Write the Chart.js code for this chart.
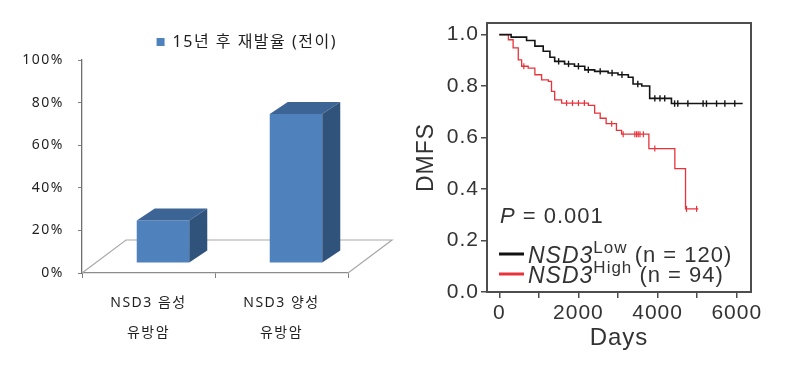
<!DOCTYPE html>
<html>
<head>
<meta charset="utf-8">
<script src="https://cdn.jsdelivr.net/npm/chart.js@4.4.1/dist/chart.umd.min.js"></script>
<style>
  html, body { margin: 0; padding: 0; background: #fff; }
  #wrap { position: relative; width: 804px; height: 373px; overflow: hidden; }
  #bars { position: absolute; left: 0; top: 0; }
  #km { position: absolute; left: 400px; top: 0; }
</style>
</head>
<body>
<div id="wrap">
  <canvas id="bars" width="400" height="373"></canvas>
  <canvas id="km" width="404" height="373"></canvas>
</div>
<script>
// left panel: 15-year recurrence (metastasis) rate
const groupLabels = [['NSD3 음성', '유방암'], ['NSD3 양성', '유방암']];
const recurrenceRate = [20, 70];
const seriesName = '15년 후 재발율 (전이)';
const percentTicks = [0, 20, 40, 60, 80, 100];

// right panel: Kaplan-Meier steps [days, DMFS]
const lowCurve = [
  [0, 1.0], [300, 0.99], [690, 0.977], [900, 0.955], [1110, 0.935], [1280, 0.912],
  [1400, 0.896], [1650, 0.886], [1900, 0.877], [2160, 0.863], [2410, 0.857],
  [2750, 0.851], [3000, 0.844], [3260, 0.834], [3380, 0.808], [3600, 0.8],
  [3800, 0.752], [4350, 0.732], [6150, 0.732]
];
const highCurve = [
  [0, 1.0], [230, 0.98], [350, 0.948], [480, 0.902], [565, 0.877], [730, 0.87],
  [900, 0.844], [1070, 0.824], [1240, 0.818], [1320, 0.779], [1400, 0.746],
  [1575, 0.734], [2250, 0.725], [2410, 0.695], [2550, 0.675], [2700, 0.654],
  [2960, 0.628], [3090, 0.613], [3780, 0.557], [4436, 0.479], [4706, 0.323],
  [5030, 0.323]
];
const lowCensored = [
  [1500, 0.896], [1750, 0.886], [2000, 0.877], [2250, 0.863], [2550, 0.857],
  [2850, 0.851], [3100, 0.844], [3500, 0.808], [3930, 0.752], [4060, 0.752],
  [4180, 0.752], [4430, 0.732], [4510, 0.732], [4765, 0.732], [5150, 0.732],
  [5235, 0.732], [5490, 0.732], [5700, 0.732], [5950, 0.732]
];
const highCensored = [
  [620, 0.877], [1700, 0.734], [1850, 0.734], [2000, 0.734], [2150, 0.734],
  [2840, 0.654], [3130, 0.613], [3425, 0.613], [3470, 0.613], [3510, 0.613],
  [3555, 0.613], [3640, 0.613], [3930, 0.557], [4730, 0.323], [4985, 0.323]
];
const dayTicks = [0, 1000, 2000, 3000, 4000, 5000, 6000];
const dayLabels = [0, 2000, 4000, 6000];
const dmfsTicks = [0, 0.2, 0.4, 0.6, 0.8, 1.0];

const KR = '"Noto Sans", "Noto Sans CJK KR", sans-serif';
const SANS = '"Liberation Sans", Arial, sans-serif';

// fake 3D: floor plane, then the bars shifted to mid-depth with top and side faces
const FLOOR = { dx: 44, dy: -33 };
const SHIFT = { dx: 14.5, dy: -10 };
const DEPTH = { dx: 18, dy: -12 };

// the source picture is stretched sideways, so text gets a little tracking
const spacing = {
  id: 'spacing',
  beforeUpdate(chart, args, opts) { chart.ctx.letterSpacing = opts.px + 'px'; },
  beforeDraw(chart, args, opts) { chart.ctx.letterSpacing = opts.px + 'px'; }
};

const box3d = {
  id: 'box3d',
  beforeDatasetsDraw(chart) {
    const { ctx, chartArea: a } = chart;
    const y0 = chart.scales.y.getPixelForValue(0);
    ctx.save();
    ctx.strokeStyle = '#a9a9a9';
    ctx.lineWidth = 1.2;
    ctx.beginPath();
    ctx.moveTo(a.left, y0);
    ctx.lineTo(a.left + FLOOR.dx, y0 + FLOOR.dy);
    ctx.lineTo(a.right + FLOOR.dx, y0 + FLOOR.dy);
    ctx.lineTo(a.right, y0);
    ctx.stroke();
    ctx.restore();
    ctx.save();
    ctx.translate(SHIFT.dx, SHIFT.dy);
  },
  afterDatasetsDraw(chart) {
    const { ctx } = chart;
    chart.getDatasetMeta(0).data.forEach(bar => {
      const { x, y, base, width } = bar.getProps(['x', 'y', 'base', 'width'], true);
      const l = x - width / 2, r = x + width / 2;
      ctx.fillStyle = '#3c6495';
      ctx.beginPath();
      ctx.moveTo(l, y);
      ctx.lineTo(l + DEPTH.dx, y + DEPTH.dy);
      ctx.lineTo(r + DEPTH.dx, y + DEPTH.dy);
      ctx.lineTo(r, y);
      ctx.closePath();
      ctx.fill();
      ctx.fillStyle = '#30537c';
      ctx.beginPath();
      ctx.moveTo(r, y);
      ctx.lineTo(r + DEPTH.dx, y + DEPTH.dy);
      ctx.lineTo(r + DEPTH.dx, base + DEPTH.dy);
      ctx.lineTo(r, base);
      ctx.closePath();
      ctx.fill();
    });
    ctx.restore();
  }
};

new Chart(document.getElementById('bars'), {
  type: 'bar',
  data: {
    labels: groupLabels,
    datasets: [{
      label: seriesName,
      data: recurrenceRate,
      backgroundColor: '#4f81bd',
      borderWidth: 0,
      categoryPercentage: 1,
      barPercentage: 0.395
    }]
  },
  options: {
    responsive: false,
    animation: false,
    devicePixelRatio: 1,
    layout: { padding: { left: 10, right: 52, top: 23, bottom: 0 } },
    plugins: {
      spacing: { px: 1.5 },
      tooltip: { enabled: false },
      legend: {
        align: 'end',
        labels: { boxWidth: 8, boxHeight: 8, padding: 11, color: '#1f1f1f', font: { family: KR, size: 16 } }
      }
    },
    scales: {
      x: {
        grid: { drawOnChartArea: false, tickLength: 5, color: '#7f7f7f', offset: true },
        border: { color: '#8c8c8c', width: 1.3 },
        ticks: { color: '#1f1f1f', padding: 10, maxRotation: 0, autoSkip: false, font: { family: KR, size: 14, lineHeight: '30px' } },
        afterFit: s => { s.height = 100; }
      },
      y: {
        min: 0,
        max: 100,
        grid: { drawOnChartArea: false, tickLength: 4, color: '#7f7f7f' },
        border: { color: '#6f6f6f', width: 1.3 },
        ticks: { color: '#1f1f1f', padding: 14, callback: v => v + '%', font: { family: KR, size: 14 } },
        afterBuildTicks: s => { s.ticks = percentTicks.map(v => ({ value: v })); },
        afterFit: s => { s.width = 72; }
      }
    }
  },
  plugins: [spacing, box3d]
});

// right panel: box frame, P value and the two-line legend
const kmNotes = {
  id: 'kmNotes',
  afterDraw(chart) {
    const { ctx, chartArea: a } = chart;
    ctx.save();
    ctx.strokeStyle = '#4d4d4d';
    ctx.lineWidth = 2;
    ctx.strokeRect(a.left, a.top, a.right - a.left, a.bottom - a.top);

    ctx.fillStyle = '#333';
    ctx.textBaseline = 'alphabetic';
    const run = (parts, x, y) => {
      parts.forEach(([text, font, dy]) => {
        ctx.font = font;
        ctx.fillText(text, x, y + (dy || 0));
        x += ctx.measureText(text).width;
      });
    };
    run([['P', 'italic 22px ' + SANS], [' = 0.001', '22px ' + SANS]], a.left + 13, a.top + 200);

    const rows = [
      { color: '#111', y: 231, sup: 'Low', n: ' (n = 120)' },
      { color: '#e8333a', y: 251, sup: 'High', n: ' (n = 94)' }
    ];
    rows.forEach(r => {
      ctx.strokeStyle = r.color;
      ctx.lineWidth = 3;
      ctx.beginPath();
      ctx.moveTo(a.left + 12, a.top + r.y);
      ctx.lineTo(a.left + 37, a.top + r.y);
      ctx.stroke();
      ctx.fillStyle = '#333';
      run([['NSD3', 'italic 23px ' + SANS], [r.sup, '17px ' + SANS, -10], [r.n, '22px ' + SANS, -1]], a.left + 41, a.top + r.y + 9);
    });
    ctx.restore();
  }
};

const pts = arr => arr.map(([x, y]) => ({ x, y }));
new Chart(document.getElementById('km'), {
  type: 'line',
  data: {
    datasets: [
      { data: pts(lowCurve), borderColor: '#141414', borderWidth: 1.6, stepped: true, pointRadius: 0 },
      { data: pts(highCurve), borderColor: '#e8333a', borderWidth: 1.3, stepped: true, pointRadius: 0 },
      { data: pts(lowCensored), showLine: false, pointStyle: 'line', pointRotation: 90, pointRadius: 3.2, pointBorderWidth: 1.4, pointBorderColor: '#141414' },
      { data: pts(highCensored), showLine: false, pointStyle: 'line', pointRotation: 90, pointRadius: 3, pointBorderWidth: 1.2, pointBorderColor: '#e8333a' }
    ]
  },
  options: {
    responsive: false,
    animation: false,
    devicePixelRatio: 1,
    layout: { padding: { left: 0, right: 53, top: 23, bottom: 0 } },
    plugins: { spacing: { px: 1 }, legend: { display: false }, tooltip: { enabled: false } },
    scales: {
      x: {
        type: 'linear',
        min: -310,
        max: 6360,
        grid: { drawOnChartArea: false, tickLength: 6, color: '#4d4d4d', lineWidth: 1.5 },
        border: { color: '#4d4d4d', width: 2 },
        ticks: {
          color: '#333', padding: 3, maxRotation: 0, autoSkip: false,
          font: { family: SANS, size: 21 },
          callback: v => dayLabels.includes(v) ? String(v) : ''
        },
        afterBuildTicks: s => { s.ticks = dayTicks.map(v => ({ value: v })); },
        title: { display: true, text: 'Days', color: '#333', font: { family: SANS, size: 24 }, padding: { top: 0, bottom: 20 } },
        afterFit: s => { s.height = 81; }
      },
      y: {
        min: 0,
        max: 1.045,
        grid: { drawOnChartArea: false, tickLength: 6, color: '#4d4d4d', lineWidth: 1.5 },
        border: { color: '#4d4d4d', width: 2 },
        ticks: { color: '#333', padding: 2, font: { family: SANS, size: 21 }, callback: v => v.toFixed(1) },
        afterBuildTicks: s => { s.ticks = dmfsTicks.map(v => ({ value: v })); },
        title: { display: true, text: 'DMFS', color: '#333', font: { family: SANS, size: 23 }, padding: { top: 13, bottom: 0 } },
        afterFit: s => { s.width = 87; }
      }
    }
  },
  plugins: [spacing, kmNotes]
});
</script>
</body>
</html>
